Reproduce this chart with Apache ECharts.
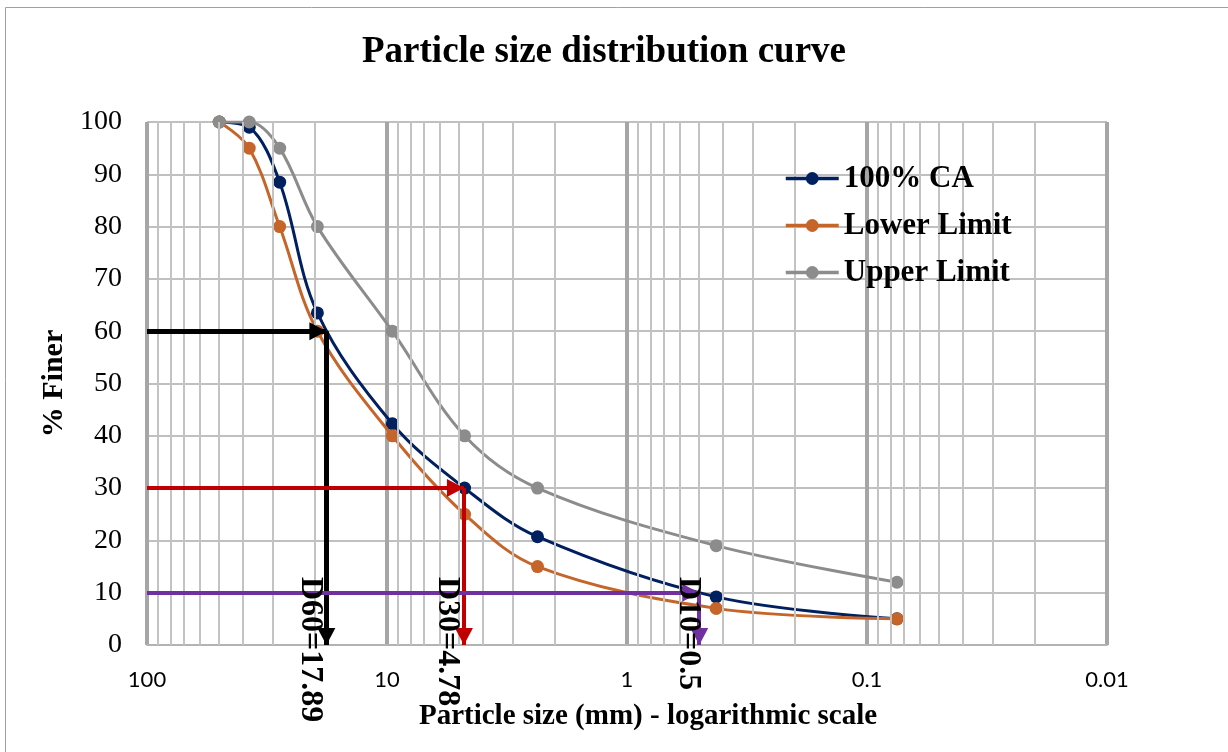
<!DOCTYPE html>
<html><head><meta charset="utf-8">
<script src="https://cdn.jsdelivr.net/npm/echarts@6/dist/echarts.min.js"></script>
<style>html,body{margin:0;padding:0;background:#fff}#c{width:1228px;height:752px}</style>
</head><body><div id="c"></div>
<script>
// ---- data ----
const sizes = [50, 37.5, 28, 19.5, 9.5, 4.75, 2.36, 0.425, 0.075];
const ca100 = [100, 99, 88.5, 63.5, 42.3, 30, 20.7, 9.2, 5];
const lowerLimit = [100, 95, 80, 60, 40, 25, 15, 7, 5];
const upperLimit = [100, 100, 95, 80, 60, 40, 30, 19, 12];
const seriesNames = ['100% CA', 'Lower Limit', 'Upper Limit'];
const dSizes = [17.89, 4.78, 0.5];
const dPercents = [60, 30, 10];
const dLabels = ['D60=17.89', 'D30=4.78', 'D10=0.5'];
const xDecades = [0.01, 0.1, 1, 10];
const minorMultipliers = [2, 3, 4, 5, 6, 7, 8, 9];

// ---- styles ----
const SERIF = '"Liberation Serif", "Times New Roman", serif';
const seriesColors = ['#002060', '#C5652A', '#8C8C8C'];
const arrowColors = ['#000000', '#C00000', '#7030A0'];
const arrowWidths = [5, 4, 4];
const labelShift = [-16, -16.5, -11];

const chart = echarts.init(document.getElementById('c'), null, {renderer: 'canvas'});

function pts(vals) { return sizes.map((s, i) => [s, vals[i]]); }

const minorVals = [];
xDecades.forEach(d => minorMultipliers.forEach(m => minorVals.push(+(m * d).toPrecision(3))));

const arrowData = [];
dSizes.forEach((d, i) => {
  const ls = {color: arrowColors[i], width: arrowWidths[i], type: 'solid'};
  arrowData.push([{coord: [100, dPercents[i]], lineStyle: ls}, {coord: [d, dPercents[i]], lineStyle: ls}]);
  arrowData.push([{coord: [d, dPercents[i]], lineStyle: ls}, {coord: [d, 0], lineStyle: ls}]);
});

const dataSeries = [ca100, lowerLimit, upperLimit].map((vals, i) => ({
  name: seriesNames[i],
  type: 'line',
  data: pts(vals),
  smooth: 0.35,
  symbol: 'circle',
  symbolSize: 13,
  showSymbol: true,
  lineStyle: {color: seriesColors[i], width: 3},
  itemStyle: {color: seriesColors[i]},
  z: 2 + i * 0.1,
  emphasis: {disabled: true}
}));

chart.setOption({
  animation: false,
  backgroundColor: '#ffffff',
  title: {
    text: 'Particle size distribution curve',
    left: 599, top: 29, textAlign: 'center',
    textStyle: {fontFamily: SERIF, fontWeight: 'bold', fontSize: 37, color: '#000'}
  },
  legend: {
    data: seriesNames,
    orient: 'vertical', left: 779, top: 158,
    itemWidth: 53, itemHeight: 16, itemGap: 16,
    selectedMode: false, z: 10,
    lineStyle: {width: 3.5},
    textStyle: {fontFamily: SERIF, fontWeight: 'bold', fontSize: 31, color: '#000'}
  },
  grid: {left: 147, right: 121, top: 122, bottom: 107, containLabel: false},
  xAxis: {
    type: 'log', logBase: 10, min: 0.01, max: 100, inverse: true,
    name: 'Particle size (mm) - logarithmic scale',
    nameLocation: 'middle', nameGap: 57,
    nameTextStyle: {fontFamily: SERIF, fontWeight: 'bold', fontSize: 29, color: '#000', padding: [0, 0, 0, 42]},
    axisLabel: {fontFamily: 'Lato', fontSize: 22, color: '#000', margin: 24,
      formatter: v => String(+(+v).toPrecision(3))},
    axisTick: {show: false},
    axisLine: {show: true, lineStyle: {color: '#b3b3b3', width: 2}},
    splitLine: {show: true, lineStyle: {color: '#a6a6a6', width: 4}},
    minorTick: {show: false}, minorSplitLine: {show: false}
  },
  yAxis: {
    type: 'value', min: 0, max: 100, interval: 10,
    name: '% Finer', nameLocation: 'middle', nameGap: 77, nameRotate: 90,
    nameTextStyle: {fontFamily: SERIF, fontWeight: 'bold', fontSize: 30, color: '#000'},
    axisLabel: {fontFamily: SERIF, fontSize: 28, color: '#000', margin: 25},
    axisTick: {show: false},
    axisLine: {show: false},
    splitLine: {show: true, lineStyle: {color: '#c0c0c0', width: 2}}
  },
  series: [
    {
      type: 'line', data: [], silent: true, z: 1,
      markLine: {
        silent: true, symbol: 'none', animation: false,
        label: {show: false},
        lineStyle: {color: '#c3c3c3', width: 2, type: 'solid'},
        emphasis: {disabled: true},
        data: minorVals.map(v => ({xAxis: v}))
      }
    },
    ...dataSeries,
    {
      type: 'line', data: [], silent: true, z: 6,
      markLine: {
        silent: true, animation: false,
        symbol: ['none', 'triangle'], symbolSize: [18, 17],
        symbolOffset: [0, [0, 8.5]],
        label: {show: false},
        emphasis: {disabled: true},
        data: arrowData
      }
    }
  ]
});

const gfx = [{
  type: 'rect', silent: true, z: 0,
  shape: {x: 5.5, y: 7.5, width: 1300, height: 800},
  style: {fill: 'none', stroke: '#a0a0a0', lineWidth: 1}
}];
dLabels.forEach((t, i) => {
  const p = chart.convertToPixel({gridIndex: 0}, [dSizes[i], 0]);
  gfx.push({
    type: 'text', silent: true, z: 20,
    x: p[0] + labelShift[i], y: p[1] - 68,
    rotation: -Math.PI / 2,
    style: {text: t, font: 'bold 32px ' + SERIF, fill: '#000', align: 'left', verticalAlign: 'middle'}
  });
});
chart.setOption({graphic: gfx});
</script>
</body></html>
